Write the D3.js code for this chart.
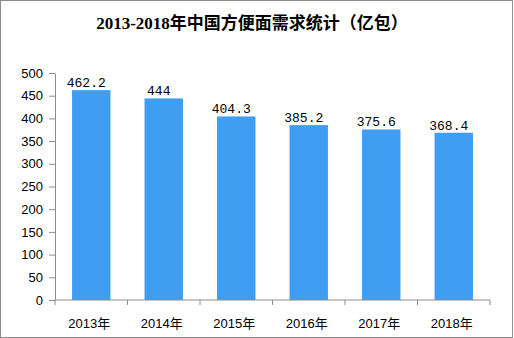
<!DOCTYPE html>
<html>
<head>
<meta charset="utf-8">
<script src="https://cdn.jsdelivr.net/npm/d3@7/dist/d3.min.js"></script>
<style>
  html, body { margin: 0; padding: 0; background: #fff; }
  svg { display: block; }
</style>
</head>
<body>
<svg id="chart" width="514" height="338"></svg>
<script>
// Instant noodle demand in China, 2013-2018 (100 million packs)
const years = ["2013年", "2014年", "2015年", "2016年", "2017年", "2018年"];
const demand = [462.2, 444, 404.3, 385.2, 375.6, 368.4];
const yTicks = [0, 50, 100, 150, 200, 250, 300, 350, 400, 450, 500];
const title = "2013-2018年中国方便面需求统计（亿包）";

const W = 514, H = 338;
const plot = { left: 55, right: 490, top: 73, bottom: 300 };
const svg = d3.select("#chart");

// outer frame
svg.append("rect")
  .attr("x", 0.5).attr("y", 0.5)
  .attr("width", W - 2).attr("height", H - 1)
  .attr("fill", "#fff").attr("stroke", "#8c8c8c");

svg.append("text")
  .attr("x", 252).attr("y", 29)
  .attr("text-anchor", "middle")
  .attr("font-family", "'Liberation Serif', 'Noto Sans CJK SC', serif")
  .attr("font-weight", "bold")
  .attr("font-size", 17)
  .attr("fill", "#000")
  .text(title);

const x = d3.scaleBand()
  .domain(years)
  .range([plot.left, plot.right])
  .paddingInner(0.47)
  .paddingOuter(0.235);

const y = d3.scaleLinear()
  .domain([0, 500])
  .range([plot.bottom, plot.top]);

// bars
svg.append("g")
  .selectAll("rect")
  .data(demand)
  .join("rect")
  .attr("x", (d, i) => x(years[i]))
  .attr("y", d => y(d))
  .attr("width", x.bandwidth())
  .attr("height", d => y(0) - y(d))
  .attr("fill", "#3f9ef2");

// value labels
svg.append("g")
  .selectAll("text")
  .data(demand)
  .join("text")
  .attr("x", (d, i) => x(years[i]) + x.bandwidth() / 2 - 5)
  .attr("y", d => y(d) - 3)
  .attr("text-anchor", "middle")
  .attr("font-family", "'Liberation Mono', 'DejaVu Sans Mono', monospace")
  .attr("font-size", 13)
  .attr("fill", "#000")
  .text(d => d);

// y axis
const yAxis = svg.append("g")
  .attr("transform", `translate(${plot.left},0)`)
  .call(d3.axisLeft(y).tickValues(yTicks).tickSize(6).tickPadding(6).tickSizeOuter(0));
yAxis.select(".domain").attr("stroke", "#8c8c8c");
yAxis.selectAll(".tick line").attr("stroke", "#8c8c8c");
yAxis.selectAll(".tick text")
  .attr("font-family", "'Liberation Sans', Arial, sans-serif")
  .attr("font-size", 13)
  .attr("fill", "#000");

// x axis line with category dividers
const xg = svg.append("g").attr("transform", `translate(0,${plot.bottom})`);
xg.append("line")
  .attr("x1", plot.left).attr("x2", plot.right)
  .attr("stroke", "#8c8c8c");
const step = x.step();
xg.selectAll("line.div")
  .data(d3.range(years.length + 1))
  .join("line")
  .attr("class", "div")
  .attr("x1", i => plot.left + i * (plot.right - plot.left) / years.length)
  .attr("x2", i => plot.left + i * (plot.right - plot.left) / years.length)
  .attr("y1", 0).attr("y2", 5)
  .attr("stroke", "#8c8c8c");
xg.selectAll("text")
  .data(years)
  .join("text")
  .attr("x", d => x(d) + x.bandwidth() / 2 - 2)
  .attr("y", 28)
  .attr("text-anchor", "middle")
  .attr("font-family", "'Liberation Sans', 'Noto Sans CJK SC', sans-serif")
  .attr("font-size", 13)
  .attr("fill", "#000")
  .text(d => d);
</script>
</body>
</html>
